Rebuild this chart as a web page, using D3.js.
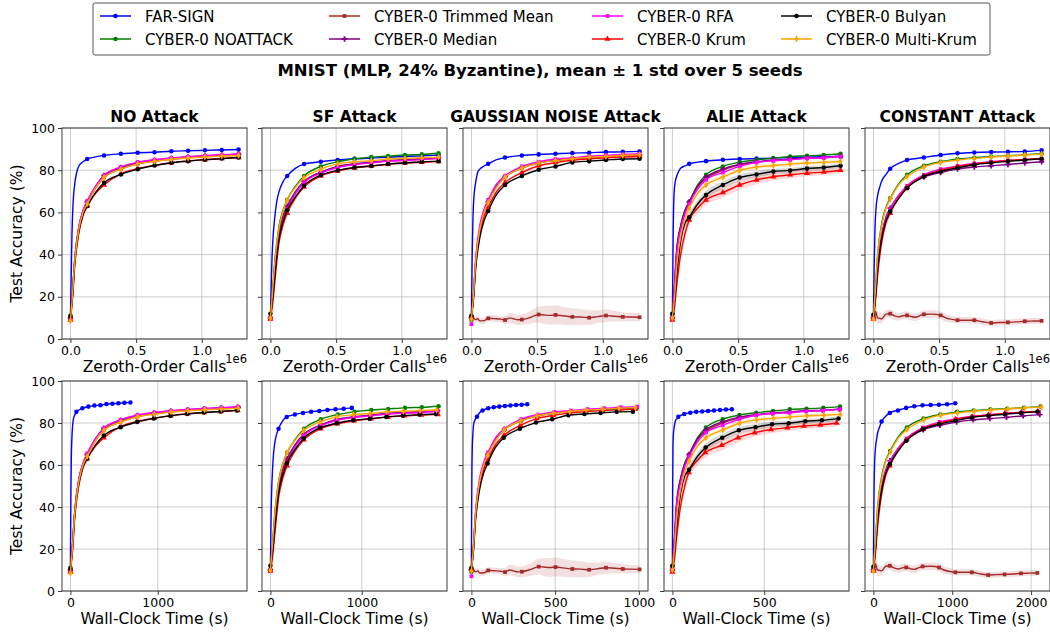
<!DOCTYPE html>
<html><head><meta charset="utf-8">
<script src="https://cdn.jsdelivr.net/npm/d3@7"></script>
<style>body{margin:0;background:#fff} text{font-family:"DejaVu Sans",sans-serif;fill:#000}</style>
</head><body>
<svg id="c" width="1050" height="632"></svg>
<script>
// ---------------- DATA ----------------
const methods = ["FAR-SIGN","CYBER-0 NOATTACK","CYBER-0 Trimmed Mean","CYBER-0 Median","CYBER-0 RFA","CYBER-0 Krum","CYBER-0 Bulyan","CYBER-0 Multi-Krum"];
const colors  = ["#0000ff","#008000","#a52a2a","#800080","#ff00ff","#ff0000","#000000","#ffa500"];
const markers = ["circle","circle","square","cross","square","triangle","circle","diamond"];
const attacks = ["NO Attack","SF Attack","GAUSSIAN NOISE Attack","ALIE Attack","CONSTANT Attack"];
const yTicks = [0,20,40,60,80,100];
const callTicks = [0,0.5,1.0];
const timeTicks = [[0,1000],[0,1000],[0,500,1000],[0,500],[0,1000,2000]];

// zeroth-order calls (x 1e6) at which values were read
const callsMain  = [0,0.016,0.032,0.064,0.096,0.128,0.192,0.256,0.384,0.512,0.64,0.768,0.896,1.024,1.152,1.28];
const callsFast  = [0,0.006,0.012,0.02,0.032,0.048,0.064,0.096,0.128,0.192,0.256,0.384,0.512,0.64,0.768,0.896,1.024,1.152,1.28];
const callsDense = [0,0.016,0.032,0.048,0.064,0.096,0.128,0.16,0.192,0.224,0.256,0.29,0.32,0.352,0.384,0.448,0.512,0.55,0.6,0.64,0.7,0.768,0.83,0.896,0.96,1.024,1.09,1.152,1.22,1.28];

// test accuracy (%) per method (order as in `methods`)
const accNO = [
 [10.5,30,50,64,73,79,82,84,85.3,86.3,87,87.8,88.3,88.5,89,89.2,89.4,89.6,89.8],
 [9.5,22,37,53,60.5,65,72,77,81,83.3,84.6,85.5,86.2,86.7,87.1,87.5],
 [10,21,36,52,60,64,71.5,76.5,80.5,83,84.3,85.2,85.9,86.4,86.8,87.1],
 [10,22,37,53,60.5,65,72.5,77.5,81.3,83.6,84.8,85.7,86.3,86.8,87.2,87.6],
 [9,22,37,53,61,65.5,72.5,77.5,81.5,83.8,85,85.8,86.4,86.9,87.3,87.7],
 [9,19,34,50,58.5,63,69,73,78.3,80.8,82.3,83.5,84.4,85,85.5,86],
 [11,20,35,51,59,63,69.5,74,78,80.5,82.2,83.5,84.3,85,85.5,86],
 [8.5,21,36,52,60,64,71.5,76.5,80.5,83,84.2,85.2,85.8,86.3,86.7,87]
];
const accSF = [
 [10,25,38,48,57,65,69.5,74.5,77.3,81,82.9,84,84.8,85.4,85.7,86.2,86.5,86.8,87.2],
 [10,22,36,53,61,66,72.5,77.3,81.8,84,85.4,86.2,86.7,87.2,87.5,88],
 [10,20,33,49,57.5,62.5,69.5,74.5,79,81.5,82.8,83.6,84.4,84.8,85.2,85.6],
 [10,21,34,50,58.5,63,70,74.6,79,81.8,83,83.8,84.5,85,85.4,85.9],
 [9.5,19,31,47,56,61.5,69,74,78.6,81.3,82.6,83.4,84.3,84.6,85,85.6],
 [9.5,16,26,45,54,59.6,67,72,77.3,79.6,81.1,82,82.8,83.4,83.8,84.1],
 [12,18,29,47,55.5,61,67.5,72.6,77.7,79.9,81.3,82,82.9,83.5,84,84.3],
 [9.8,22,35,52,60.5,65.9,72,76.4,80.5,83,84,84.5,85.3,85.6,85.9,86.2]
];
const accGAUSS = [
 [10,40,58,68,74,79,80.5,82,83,85,86,87,87.5,87.8,88.1,88.3,88.6,88.7,88.9],
 [9,21,36,52,60,65,72.5,76.8,81,83.4,84.6,85.4,86,86.4,86.7,86.9],
 [10.5,9.8,9.2,9.6,8.6,8.7,9.8,9.7,9.6,9.4,9.0,10.0,9.6,9.1,9.2,10.2,11.6,11.4,11.2,11.4,11.0,10.5,10.4,10.1,10.6,11.1,10.8,10.5,10.4,10.3],
 [10,21,36,52,60,65,72.5,77,81.3,83.5,84.8,85.5,86.2,86.6,87,87.2],
 [7,22,38,54,61.5,66,73.5,77.3,81.8,84,85.3,85.9,86.6,87,87.5,87.8],
 [11,20,35,50,58,62.5,70,74.2,78.9,82.1,83.6,84.7,85.4,85.9,86.2,86.5],
 [11,19,33,48,56,60.7,68.5,73,77.3,80.2,81.8,83.7,84.3,84.8,85.3,85.4],
 [9.5,21,36,52,60,64.7,72,76.7,81,83.4,84.6,85.4,86.2,86.5,87,87.3]
];
const accALIE = [
 [11.7,50,68,74,77,79.5,81,82,83,83.8,84.3,84.9,85.3,85.5,85.7,86,86.2,86.4,86.5],
 [10,24,40,54,61,65,73,77.8,81.8,83.8,84.9,85.7,86.5,86.8,87.2,87.8],
 [10,25,41,53,60,64.5,72,76,80,82.5,83.8,84.6,85.1,85.7,86,86.5],
 [10,26,42,54,61,65,72.5,76.7,80.5,82.8,84,84.8,85.3,85.8,86.1,86.6],
 [10,24,40,52,59.5,64,71,75.4,78.9,81.8,83.7,84.5,84.9,85.6,85.9,86.5],
 [9,15,25,40.6,50,56.4,62,65.9,69.4,73,75.4,76.9,77.8,78.6,79.1,80],
 [12,18,30,47,55,57.7,64,68.3,73,76.5,78,79.4,79.9,80.8,81.3,82.1],
 [10,20,34,49,57,62,69,73,76.7,79.9,81.5,82.2,82.9,83.4,83.7,84.1]
];
const accCONST = [
 [10,35,52,62,68,72,75,78,80.7,83.2,84.8,86,87.2,88,88.4,88.6,88.7,88.9,89.4],
 [10,25,40,55,62.5,66.7,73.5,77.8,82.1,84,85.3,85.9,86.5,86.8,87.3,87.8],
 [10.5,13,10,9.8,9.6,11.8,12,11,10.5,11,11.2,10.6,10.3,11,11.7,11.8,11.2,10,9.3,8.9,8.9,8.9,8.2,7.6,7.8,7.9,8.1,8.4,8.5,8.6],
 [10,21,34,50,58,62,68,72,76.7,78.9,80.5,81.5,82.1,82.7,83.4,84],
 [10,20,33,49,57,61.5,68,72.6,77.8,80.5,82,83.2,84,84.6,85,85.3],
 [9.5,18,30,46,55,59.6,67,71.9,77.3,79.9,81.8,83,83.8,84.6,85.1,85.6],
 [11.5,20,33,48,56,60.4,66.5,71.5,77,79.4,81.1,82.6,83.5,84.2,84.8,85.4],
 [9.5,24,39,54,62,66.2,73,76.9,81.5,83.7,84.8,85.6,86.2,86.7,87.2,87.6]
];

// std (%) where the band is visible
const stdGAUSS_TM = [1.5,1.5,1.5,1.5,1.5,1.5,1.5,1.5,1.5,1.5,2,2.5,2.5,2.5,2.5,3,3.8,4.2,4.5,4.5,4.2,4,3.8,3.5,3,3,2.5,2.2,2,2];
const stdCONST_TM = [1.5,3,3,2.5,2,2,2,2,1.8,1.8,1.8,1.8,1.8,1.8,1.8,1.8,1.8,1.8,1.6,1.5,1.5,1.5,1.5,1.4,1.4,1.4,1.4,1.4,1.4,1.4];
const stdALIE_Krum = [1,3,4,4,3.5,3,2.5,2.5,2.5,2.2,2,1.8,1.6,1.5,1.5,1.5];
const stdALIE_Bulyan = [1,2.5,3,3,2.5,2,2,2,1.8,1.6,1.5,1.3,1.2,1.2,1.1,1.1];
const stdALIE_MK = [1,2,2,2,1.5,1.5,1.5,1.5,1.2,1,1,1,1,1,1,1];

// total wall-clock time (s) of each run
const timeNO    = [687,1925,1900,1915,1920,1915,1910,1920];
const timeSF    = [891,1840,1830,1830,1830,1833,1812,1818];
const timeGAUSS = [333,985,1004,985,990,975,964,979];
const timeALIE  = [324,913,910,910,912,895,905,916];
const timeCONST = [1038,2120,2080,2110,2100,2085,2080,2133];

// ---------------- BUILD ----------------
const F=callsFast, M=callsMain, D=callsDense;
const panels = [
 {acc:accNO,   time:timeNO,    grid:[F,M,M,M,M,M,M,M], std:{}},
 {acc:accSF,   time:timeSF,    grid:[F,M,M,M,M,M,M,M], std:{}},
 {acc:accGAUSS,time:timeGAUSS, grid:[F,M,D,M,M,M,M,M], std:{2:stdGAUSS_TM}},
 {acc:accALIE, time:timeALIE,  grid:[F,M,M,M,M,M,M,M], std:{5:stdALIE_Krum,6:stdALIE_Bulyan,7:stdALIE_MK}},
 {acc:accCONST,time:timeCONST, grid:[F,M,D,M,M,M,M,M], std:{2:stdCONST_TM}}
];

const svg = d3.select("#c");
const panelLeft = [62,262,463,664,865], pw = 185;
const rows = [{top:128,bottom:339,label:"Zeroth-Order Calls"},{top:381,bottom:591,label:"Wall-Clock Time (s)"}];
const symType = {circle:d3.symbolCircle,square:d3.symbolSquare,triangle:d3.symbolTriangle,diamond:d3.symbolDiamond,cross:d3.symbolCross};
const symSize = {circle:16,square:14,triangle:16,diamond:14,cross:16};
const isMarker = c => Math.abs(c/0.128 - Math.round(c/0.128)) < 1e-6;

panels.forEach((p,pi)=>{
  rows.forEach((r,ri)=>{
    const x0 = panelLeft[pi], x1 = x0+pw;
    let xs;
    if (ri===0) xs = d3.scaleLinear().domain([-0.064,1.344]).range([x0,x1]);
    else { const T=d3.max(p.time); xs = d3.scaleLinear().domain([-0.05*T,1.05*T]).range([x0,x1]); }
    const ys = d3.scaleLinear().domain([0,100]).range([r.bottom,r.top]);
    const g = svg.append("g");
    const cid = "clip"+pi+"_"+ri;
    g.append("clipPath").attr("id",cid).append("rect").attr("x",x0).attr("y",r.top).attr("width",pw).attr("height",r.bottom-r.top);

    // grid
    const xt = ri===0 ? callTicks : timeTicks[pi];
    g.selectAll(".gx").data(xt).join("line").attr("x1",d=>xs(d)).attr("x2",d=>xs(d)).attr("y1",r.top).attr("y2",r.bottom)
      .attr("stroke","#b0b0b0").attr("stroke-width",0.8).attr("stroke-opacity",0.8);
    g.selectAll(".gy").data(yTicks).join("line").attr("x1",x0).attr("x2",x1).attr("y1",d=>ys(d)).attr("y2",d=>ys(d))
      .attr("stroke","#b0b0b0").attr("stroke-width",0.8).attr("stroke-opacity",0.8);

    const plot = g.append("g").attr("clip-path","url(#"+cid+")");
    p.acc.forEach((vals,si)=>{
      const xg = p.grid[si];
      const last = xg[xg.length-1];
      const xv = ri===0 ? xg : xg.map(c=>c/last*p.time[si]);
      const pts = vals.map((v,i)=>({x:xv[i],y:v,c:xg[i],s:(p.std[si]||[])[i]||0}));
      if (p.std[si]) {
        const area = d3.area().x(d=>xs(d.x)).y0(d=>ys(d.y-d.s)).y1(d=>ys(d.y+d.s)).curve(d3.curveMonotoneX);
        plot.append("path").attr("d",area(pts)).attr("fill",colors[si]).attr("fill-opacity",0.15);
      }
      const line = d3.line().x(d=>xs(d.x)).y(d=>ys(d.y)).curve(d3.curveMonotoneX);
      plot.append("path").attr("d",line(pts)).attr("fill","none").attr("stroke",colors[si]).attr("stroke-width",1.4);
      const sym = d3.symbol().type(symType[markers[si]]).size(symSize[markers[si]]);
      plot.selectAll(null).data(pts.filter(d=>isMarker(d.c))).join("path")
        .attr("d",sym).attr("transform",d=>`translate(${xs(d.x)},${ys(d.y)})`).attr("fill",colors[si]);
    });

    // spines
    g.append("rect").attr("x",x0).attr("y",r.top).attr("width",pw).attr("height",r.bottom-r.top)
      .attr("fill","none").attr("stroke","#3a3a3a").attr("stroke-width",1);

    // axes
    const fmt = ri===0 ? d3.format(".1f") : d3.format("d");
    const ax = g.append("g").attr("transform",`translate(0,${r.bottom})`)
      .call(d3.axisBottom(xs).tickValues(xt).tickFormat(fmt).tickSize(4).tickPadding(3));
    const ay = g.append("g").attr("transform",`translate(${x0},0)`)
      .call(d3.axisLeft(ys).tickValues(yTicks).tickSize(4).tickPadding(3).tickFormat(pi===0?d3.format("d"):()=> ""));
    [ax,ay].forEach(a=>{a.select(".domain").remove(); a.selectAll("line").attr("stroke","#3a3a3a");
      a.selectAll("text").style("font-size","12.5px").style("font-family","DejaVu Sans").attr("fill","#000");});

    g.append("text").attr("x",x0+pw/2).attr("y",r.bottom+33).attr("text-anchor","middle")
      .style("font-size","15.5px").text(r.label);
    if (ri===0) g.append("text").attr("x",x1).attr("y",r.bottom+24).attr("text-anchor","end")
      .style("font-size","11.5px").text("1e6");
    if (pi===0) g.append("text").attr("transform",`translate(22,${(r.top+r.bottom)/2}) rotate(-90)`)
      .attr("text-anchor","middle").style("font-size","15.5px").text("Test Accuracy (%)");
    if (ri===0) g.append("text").attr("x",x0+pw/2).attr("y",r.top-6).attr("text-anchor","middle")
      .style("font-size","15.5px").style("font-weight","bold").text(attacks[pi]);
  });
});

// title
svg.append("text").attr("x",540).attr("y",76).attr("text-anchor","middle")
  .style("font-size","16.5px").style("font-weight","bold").text("MNIST (MLP, 24% Byzantine), mean ± 1 std over 5 seeds");

// legend
const lg = svg.append("g");
lg.append("rect").attr("x",93).attr("y",3).attr("width",897).attr("height",52).attr("rx",2)
  .attr("fill","#fff").attr("stroke","#555").attr("stroke-width",1);
const colX = [100,329,592,781];
methods.forEach((m,i)=>{
  const col = Math.floor(i/2), row = i%2;
  const hx = colX[col], hy = 16+row*23;
  lg.append("line").attr("x1",hx).attr("x2",hx+31).attr("y1",hy).attr("y2",hy).attr("stroke",colors[i]).attr("stroke-width",1.5);
  lg.append("path").attr("d",d3.symbol().type(symType[markers[i]]).size(symSize[markers[i]])())
    .attr("transform",`translate(${hx+15.5},${hy})`).attr("fill",colors[i]);
  lg.append("text").attr("x",hx+45).attr("y",hy+5.5).style("font-size","15px").text(m);
});
</script>
</body></html>
